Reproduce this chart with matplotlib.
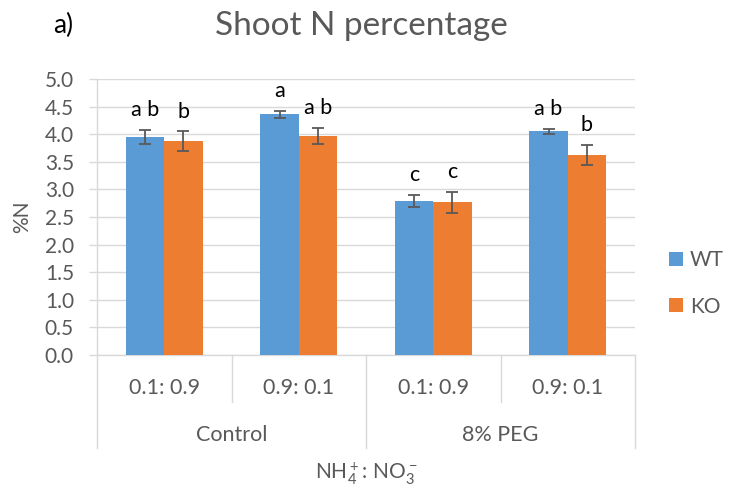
import matplotlib
matplotlib.use('Agg')
import matplotlib.pyplot as plt
import matplotlib.transforms as mtransforms
from matplotlib.patches import Patch
from matplotlib.ticker import FormatStrFormatter
import numpy as np

# ---- data ----
conditions = ['Control', '8% PEG']
ratios = ['0.1: 0.9', '0.9: 0.1', '0.1: 0.9', '0.9: 0.1']
series = ['WT', 'KO']
wt_values = [3.95, 4.36, 2.79, 4.05]
wt_errors = [0.12, 0.06, 0.11, 0.05]
ko_values = [3.87, 3.97, 2.77, 3.63]
ko_errors = [0.18, 0.14, 0.19, 0.18]
wt_letters = ['a b', 'a', 'c', 'a b']
ko_letters = ['b', 'a b', 'c', 'b']
y_ticks = [0.0, 0.5, 1.0, 1.5, 2.0, 2.5, 3.0, 3.5, 4.0, 4.5, 5.0]

# ---- style ----
plt.rcParams['font.family'] = ['Lato', 'DejaVu Sans']
plt.rcParams['mathtext.default'] = 'regular'
GREY = '#595959'
GRID = '#d9d9d9'
BLUE = '#5B9BD5'
ORANGE = '#ED7D31'
FS = 15

W, H = 729, 490
L, R, T, B = 97, 635, 79, 355
fig = plt.figure(figsize=(W / 100, H / 100), dpi=100)
ax = fig.add_axes([L / W, 1 - B / H, (R - L) / W, (B - T) / H])
ph = B - T

x = np.arange(len(ratios))
w = 0.286
ekw = dict(ecolor=GREY, elinewidth=1.3, capsize=4.5, capthick=1.3)
ax.bar(x - w / 2, wt_values, w, color=BLUE, yerr=wt_errors, error_kw=ekw, zorder=3)
ax.bar(x + w / 2, ko_values, w, color=ORANGE, yerr=ko_errors, error_kw=ekw, zorder=3)

for xi, v, e, lt in zip(x - w / 2, wt_values, wt_errors, wt_letters):
    ax.annotate(lt, xy=(xi, v + e), xytext=(0, 10), textcoords='offset points',
                ha='center', va='baseline', fontsize=15.5, color='black')
for xi, v, e, lt in zip(x + w / 2, ko_values, ko_errors, ko_letters):
    ax.annotate(lt, xy=(xi, v + e), xytext=(0, 10), textcoords='offset points',
                ha='center', va='baseline', fontsize=15.5, color='black')

ax.set_xlim(-0.5, len(ratios) - 0.5)
ax.set_ylim(0, 5)
ax.set_yticks(y_ticks)
ax.yaxis.set_major_formatter(FormatStrFormatter('%.1f'))
ax.grid(axis='y', color=GRID, linewidth=1.0, zorder=0)
ax.set_axisbelow(True)
for s in ['top', 'right']:
    ax.spines[s].set_visible(False)
for s in ['left', 'bottom']:
    ax.spines[s].set_color(GRID)
    ax.spines[s].set_linewidth(1.0)
ax.tick_params(axis='y', length=5.8, color=GRID, width=1.0, labelsize=FS,
               labelcolor=GREY, pad=10.8)
ax.set_xticks(x)
ax.set_xticklabels(ratios)
ax.tick_params(axis='x', length=0, labelsize=15.5, labelcolor=GREY, pad=28)
for lab in ax.get_xticklabels():
    lab.set_va('baseline')

# category dividers below the axis
trans = mtransforms.blended_transform_factory(ax.transData, ax.transAxes)
short = -(402 - B) / ph
long_ = -(448 - B) / ph
for i in range(len(ratios) + 1):
    xb = i - 0.5
    yb = long_ if i % 2 == 0 else short
    ax.plot([xb, xb], [0, yb], transform=trans, color=GRID, linewidth=1.0,
            clip_on=False)

for gi, cond in enumerate(conditions):
    xc = gi * 2 + 0.5
    ax.text(xc, -(441 - B) / ph, cond, transform=trans, ha='center',
            va='baseline', fontsize=15.5, color=GREY)

ax.set_xlabel(r'NH$_4^+$: NO$_3^-$', fontsize=FS, color=GREY)
ax.xaxis.set_label_coords(0.5, -(479 - B) / ph)
ax.xaxis.label.set_va('baseline')

ax.set_ylabel('%N', fontsize=FS, color=GREY)
ax.yaxis.set_label_coords((22 - L) / (R - L), 0.5)
ax.yaxis.label.set_va('center')

handles = [Patch(facecolor=BLUE), Patch(facecolor=ORANGE)]
fig.legend(handles, series, loc='center left',
           bbox_to_anchor=(669 / W, 1 - 283.5 / H), frameon=False, fontsize=FS,
           handlelength=0.67, handleheight=0.67, handletextpad=0.34,
           labelspacing=1.25, borderpad=0, borderaxespad=0, labelcolor=GREY)

fig.text(361.5 / W, 1 - 35 / H, 'Shoot N percentage', ha='center',
         va='baseline', fontsize=24, color=GREY)
fig.text(63.5 / W, 1 - 33 / H, 'a)', ha='center', va='baseline', fontsize=19,
         color='black')

fig.savefig('out.png', dpi=100)
